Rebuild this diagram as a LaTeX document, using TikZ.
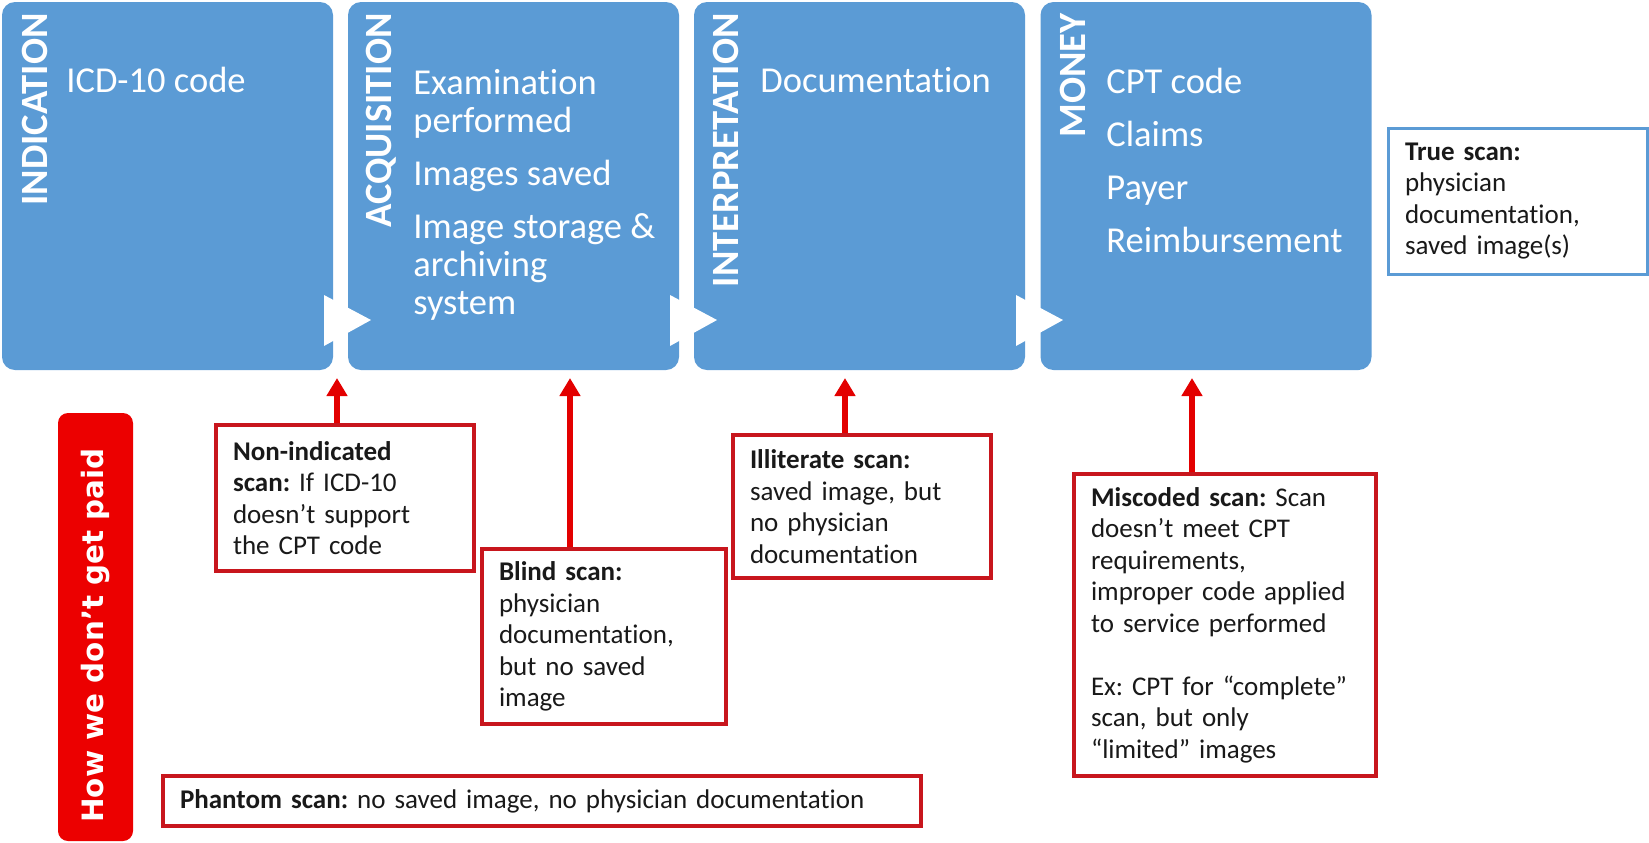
\documentclass[tikz,border=0pt]{standalone}
\usepackage{fontspec}
\setmainfont{Carlito}[Ligatures=NoCommon]
\newfontfamily\paidfont{DejaVu Sans}
\usepackage{xcolor}
\usetikzlibrary{arrows.meta}

\definecolor{stageblue}{HTML}{5B9BD5}
\definecolor{paidred}{HTML}{EC0000}
\definecolor{boxred}{HTML}{C8161D}
\definecolor{arrowred}{HTML}{E30000}
\definecolor{trueblue}{HTML}{5B9BD5}

\begin{document}
\frenchspacing
\begin{tikzpicture}[x=0.5pt,y=-0.5pt,
    stage/.style={fill=stageblue, rounded corners=6.5pt, minimum width=165.5pt, minimum height=184pt, inner sep=0pt},
    stagetitle/.style={rotate=90, anchor=east, inner sep=0pt, text=white, font=\bfseries\fontsize{19.3pt}{20pt}\selectfont},
    stagetext/.style={anchor=base west, align=left, inner sep=0pt, text=white, font=\fontsize{18.25pt}{19pt}\selectfont},
    failbox/.style={draw=boxred, line width=2.2pt, fill=white, align=left, inner xsep=8.5pt, inner ysep=0pt, text=black!90, font=\fontsize{13.5pt}{15.75pt}\selectfont},
    failarrow/.style={draw=arrowred, line width=3pt, -{Triangle[width=10pt,length=9pt]}},
    paidbox/.style={rotate=90, fill=paidred, rounded corners=5pt, minimum width=214pt, minimum height=37.5pt, text=white, font=\paidfont\bfseries\fontsize{14.7pt}{16pt}\selectfont}
    ]
    \useasboundingbox (0,0) rectangle (1649,842);

    % stages
    \node[stage] (ind) at (167.5,186) {};
    \node[stage] (acq) at (513.5,186) {};
    \node[stage] (interp) at (859.5,186) {};
    \node[stage] (money) at (1206,186) {};

    \node[stagetitle] (indtitle) at (35,13) {INDICATION};
    \node[stagetitle] (acqtitle) at (381,13) {ACQUISITION};
    \node[stagetitle] (inttitle) at (726,13) {INTERPRETATION};
    \node[stagetitle] (montitle) at (1073,13) {MONEY};

    % base = last line
    \node[stagetext] (indtext) at (66,92.5) {ICD-10 code};
    \node[stagetext] (acqtext) at (413,314.5) {Examination\\performed\\[7.5pt]Images saved\\[7.5pt]Image storage \&\\archiving\\system};
    \node[stagetext] (inttext) at (760,92.5) {Documentation};
    \node[stagetext] (montext) at (1106,252.5) {CPT code\\[7.5pt]Claims\\[7.5pt]Payer\\[7.5pt]Reimbursement};

    % chevrons
    \fill[white] (324,295) -- (371,320) -- (324,346) -- cycle;
    \fill[white] (670,295) -- (717,320) -- (670,346) -- cycle;
    \fill[white] (1016,295) -- (1063,320) -- (1016,346) -- cycle;

    \node[failbox, draw=trueblue, line width=1.5pt, text width=112.5pt, minimum height=73pt] (truescan) at (1517.5,201) {\textbf{True scan:}\\physician\\documentation,\\saved image(s)};

    % how we don't get paid
    \node[paidbox] (paid) at (95.5,627) {How we don’t get paid\hspace{8.4pt}\mbox{}};

    \node[failbox, text width=112pt, minimum height=73pt] (nonind) at (345,498) {\textbf{Non-indicated}\\\textbf{scan:} If ICD-10\\doesn’t support\\the CPT code};
    \node[failbox, text width=105pt, minimum height=87.5pt] (blind) at (604,636.5) {\textbf{Blind scan:}\\physician\\documentation,\\but no saved\\image};
    \node[failbox, text width=112pt, minimum height=71.5pt] (illit) at (862,506.5) {\textbf{Illiterate scan:}\\saved image, but\\no physician\\documentation};
    \node[failbox, text width=134pt, minimum height=151pt] (miscoded) at (1225,625) {\textbf{Miscoded scan:} Scan\\doesn’t meet CPT\\requirements,\\improper code applied\\to service performed\\[15.75pt]Ex: CPT for “complete”\\scan, but only\\“limited” images};
    \node[failbox, text width=362pt, minimum height=25pt] (phantom) at (542,801) {\textbf{Phantom scan:} no saved image, no physician documentation};

    \coordinate (tip1) at (337,378);
    \coordinate (tip2) at (570,378);
    \coordinate (tip3) at (845,378);
    \coordinate (tip4) at (1192,378);

    \draw[failarrow] (nonind.north -| tip1) -- (tip1);
    \draw[failarrow] (blind.north -| tip2) -- (tip2);
    \draw[failarrow] (illit.north -| tip3) -- (tip3);
    \draw[failarrow] (miscoded.north -| tip4) -- (tip4);
\end{tikzpicture}
\end{document}
